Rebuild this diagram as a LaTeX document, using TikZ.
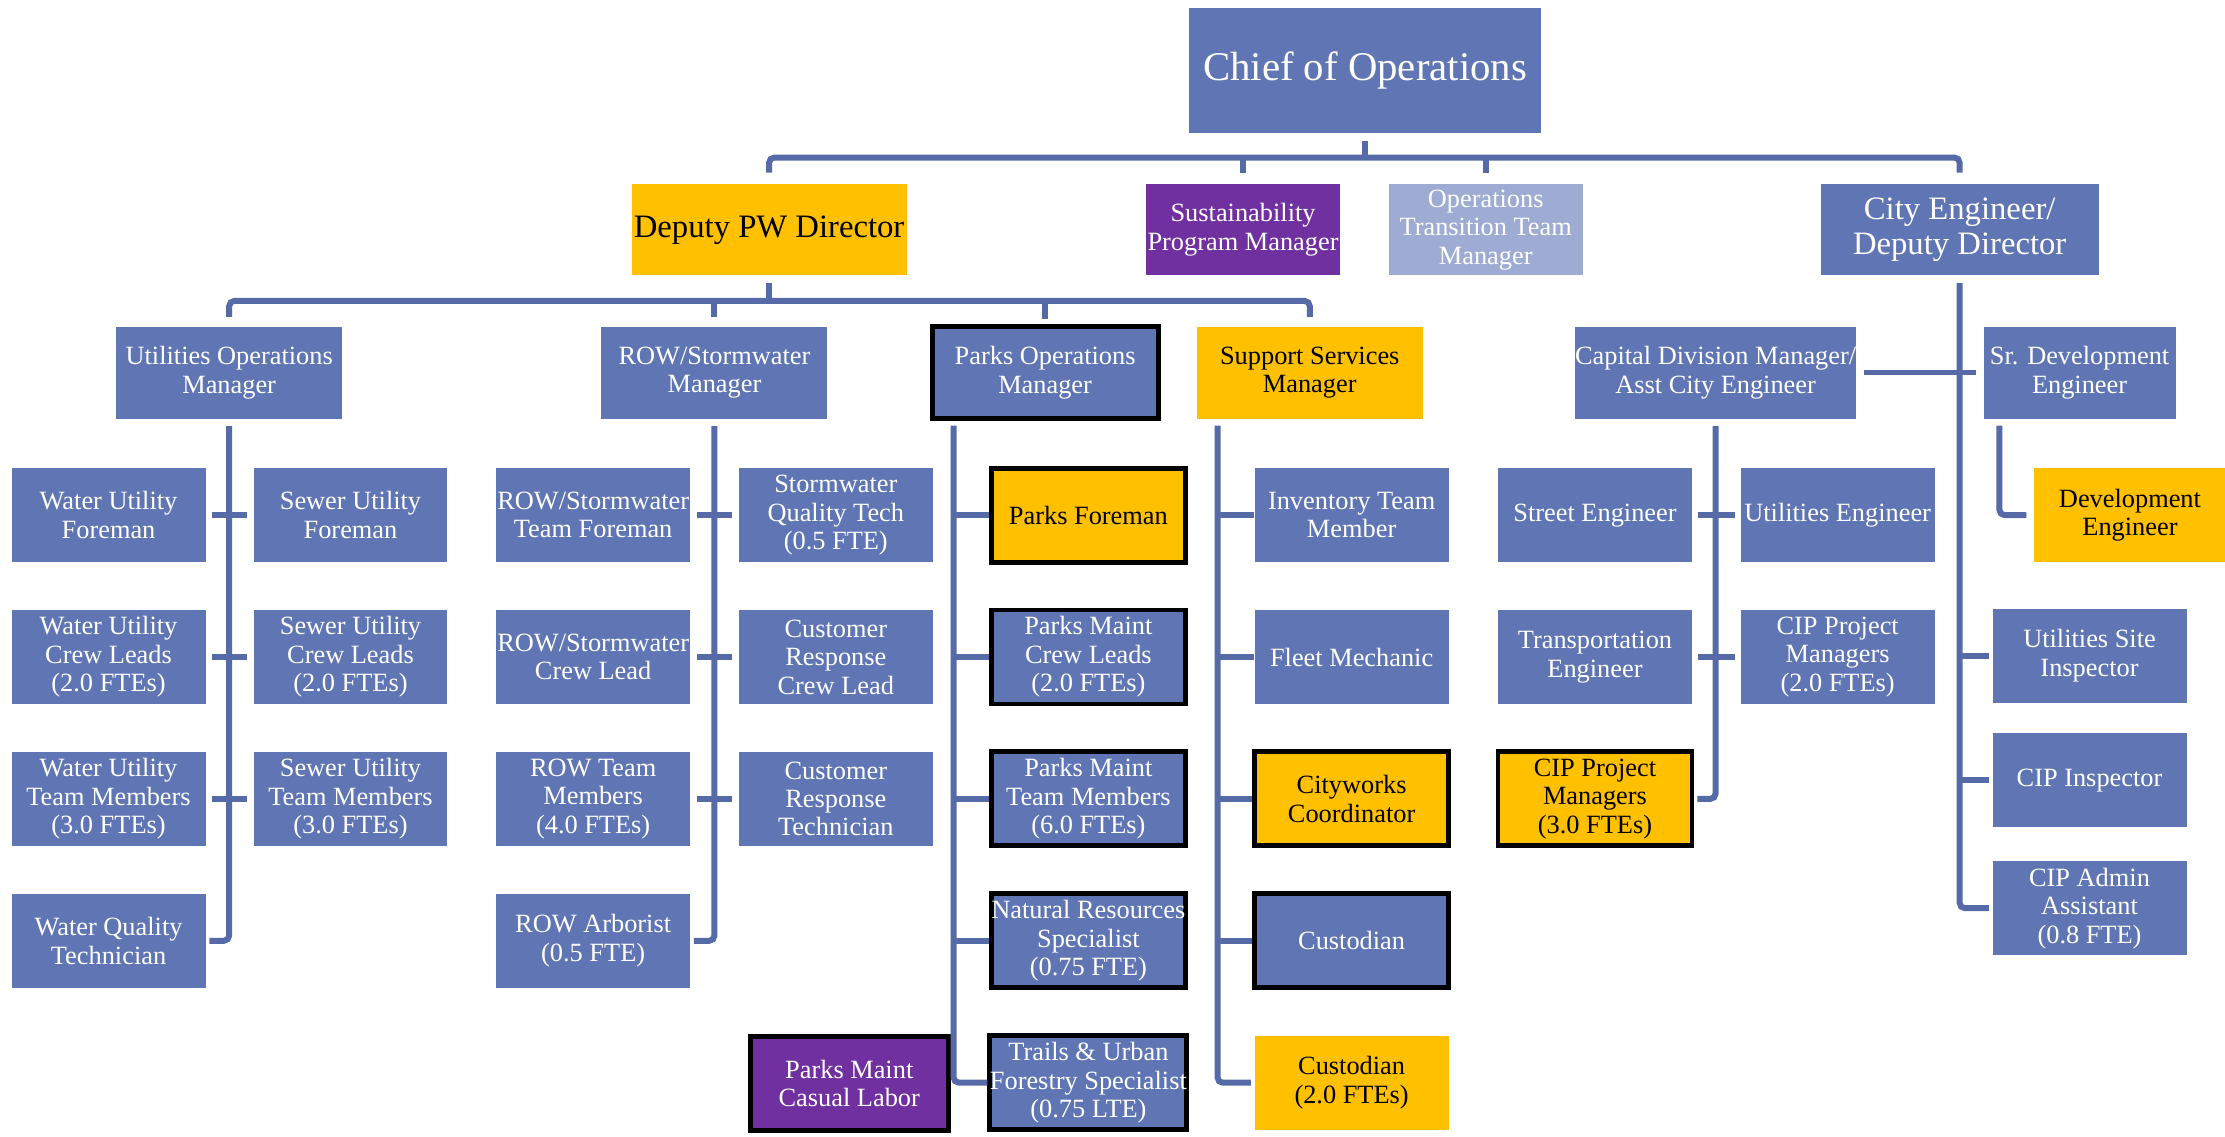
\documentclass[tikz,border=0pt]{standalone}
\usepackage{fontspec}
\setmainfont{Liberation Serif}
\usepackage{tikz}
\usetikzlibrary{positioning}

\definecolor{opsblue}{RGB}{96,118,180}
\definecolor{linkblue}{RGB}{86,106,168}
\definecolor{opsgold}{RGB}{255,192,0}
\definecolor{opsplum}{RGB}{112,48,160}
\definecolor{opspale}{RGB}{158,172,212}

\begin{document}
\begin{tikzpicture}[x=0.01419cm, y=-0.01419cm, node distance=1.419cm,
    box/.style={rectangle, fill=opsblue, text=white, inner sep=0pt, align=center,
      minimum width=1.94cm, minimum height=0.94cm, font=\fontsize{7.5}{8.1}\selectfont},
    head/.style={box, minimum width=2.26cm, minimum height=0.92cm},
    topbox/.style={box, minimum height=0.91cm, font=\fontsize{9.3}{10}\selectfont},
    gold/.style={fill=opsgold, text=black},
    plum/.style={fill=opsplum, text=white},
    keyrole/.style={draw=black, line width=1.4pt},
    link/.style={draw=linkblue, line width=1.7pt, rounded corners=1.5pt}]
        \useasboundingbox (0,0) rectangle (1568,801);

        % Top levels
        \node[box, minimum width=3.52cm, minimum height=1.25cm, font=\fontsize{11.6}{13}\selectfont] (chief) at (962,50) {Chief of Operations};
        \node[topbox, gold, minimum width=2.75cm] (deputy) at (542,162) {Deputy PW Director};
        \node[box, plum, minimum height=0.91cm] (sust) at (876,162) {Sustainability\\Program Manager};
        \node[box, fill=opspale, minimum height=0.91cm] (trans) at (1047,162) {Operations\\Transition Team\\Manager};
        \node[topbox, minimum width=2.78cm] (cityeng) at (1381,162) {City Engineer/\\Deputy Director};

        % Managers
        \node[head] (util) at (161.5,262.5) {Utilities Operations\\Manager};
        \node[head] (rowmgr) at (503.5,262.5) {ROW/Stormwater\\Manager};
        \node[head, keyrole] (parks) at (736.5,262.5) {Parks Operations\\Manager};
        \node[head, gold] (support) at (923,262.5) {Support Services\\Manager};
        \node[head, minimum width=2.81cm] (capital) at (1209,262.5) {Capital Division Manager/\\Asst City Engineer};
        \node[head, minimum width=1.92cm] (srdev) at (1465.5,262.5) {Sr. Development\\Engineer};

        % Utilities
        \node[box] (wuf) at (76.5,363) {Water Utility\\Foreman};
        \node[box, below of=wuf] (wucl) {Water Utility\\Crew Leads\\(2.0 FTEs)};
        \node[box, below of=wucl] (wutm) {Water Utility\\Team Members\\(3.0 FTEs)};
        \node[box, below of=wutm] (wqt) {Water Quality\\Technician};
        \node[box] (suf) at (247,363) {Sewer Utility\\Foreman};
        \node[box, below of=suf] (sucl) {Sewer Utility\\Crew Leads\\(2.0 FTEs)};
        \node[box, below of=sucl] (sutm) {Sewer Utility\\Team Members\\(3.0 FTEs)};

        % ROW / Stormwater
        \node[box] (rtf) at (418,363) {ROW/Stormwater\\Team Foreman};
        \node[box, below of=rtf] (rcl) {ROW/Stormwater\\Crew Lead};
        \node[box, below of=rcl] (rtm) {ROW Team\\Members\\(4.0 FTEs)};
        \node[box, below of=rtm] (arb) {ROW Arborist\\(0.5 FTE)};
        \node[box] (sqt) at (589,363) {Stormwater\\Quality Tech\\(0.5 FTE)};
        \node[box, below of=sqt] (crcl) {Customer\\Response\\Crew Lead};
        \node[box, below of=crcl] (crt) {Customer\\Response\\Technician};

        % Parks
        \node[box, gold, keyrole] (pf) at (767,363) {Parks Foreman};
        \node[box, keyrole, below of=pf] (pmcl) {Parks Maint\\Crew Leads\\(2.0 FTEs)};
        \node[box, keyrole, below of=pmcl] (pmtm) {Parks Maint\\Team Members\\(6.0 FTEs)};
        \node[box, keyrole, below of=pmtm] (nrs) {Natural Resources\\Specialist\\(0.75 FTE)};
        \node[box, keyrole, below of=nrs] (tufs) {Trails \& Urban\\Forestry Specialist\\(0.75 LTE)};
        \node[box, plum, keyrole, minimum width=1.98cm] (casual) at (598.5,763.5) {Parks Maint\\Casual Labor};

        % Support services
        \node[box] (inv) at (952.5,363) {Inventory Team\\Member};
        \node[box, below of=inv] (fleet) {Fleet Mechanic};
        \node[box, gold, keyrole, below of=fleet] (cw) {Cityworks\\Coordinator};
        \node[box, keyrole, below of=cw] (cust) {Custodian};
        \node[box, gold, below of=cust] (cust2) {Custodian\\(2.0 FTEs)};

        % Capital division
        \node[box] (streng) at (1124,363) {Street Engineer};
        \node[box, below of=streng] (transeng) {Transportation\\Engineer};
        \node[box, gold, keyrole, below of=transeng] (cip3) {CIP Project\\Managers\\(3.0 FTEs)};
        \node[box] (utileng) at (1295,363) {Utilities Engineer};
        \node[box, below of=utileng] (cip2) {CIP Project\\Managers\\(2.0 FTEs)};

        % City engineer
        \node[box, gold, minimum width=1.92cm] (deveng) at (1501,363) {Development\\Engineer};
        \node[box] (usi) at (1472.5,462) {Utilities Site\\Inspector};
        \node[box] (cipi) at (1472.5,550) {CIP Inspector};
        \node[box] (cipadmin) at (1472.5,640) {CIP Admin\\Assistant\\(0.8 FTE)};

        % Line anchors
        \coordinate (bus0) at (0,111);
        \coordinate (bus1) at (0,212);
        \coordinate (parksline) at (672,300);
        \coordinate (suppline) at (858,300);
        \coordinate (devline) at (1409,300);

        % Connectors
        \draw[link, shorten <=0.07cm] (chief.south) -- (chief.south |- bus0);
        \draw[link, shorten <=0.11cm, shorten >=0.11cm] (deputy.north) |- (cityeng.north |- bus0) -- (cityeng.north);
        \draw[link, shorten >=0.11cm] (sust.north |- bus0) -- (sust.north);
        \draw[link, shorten >=0.11cm] (trans.north |- bus0) -- (trans.north);

        \draw[link, shorten <=0.07cm] (deputy.south) -- (deputy.south |- bus1);
        \draw[link, shorten <=0.09cm, shorten >=0.09cm] (util.north) |- (support.north |- bus1) -- (support.north);
        \draw[link, shorten >=0.09cm] (rowmgr.north |- bus1) -- (rowmgr.north);
        \draw[link, shorten >=0.05cm] (parks.north |- bus1) -- (parks.north);

        \draw[link, shorten <=0.07cm, shorten >=0.03cm] (util.south) |- (wqt.east);
        \draw[link, shorten <=0.06cm, shorten >=0.06cm] (wuf) -- (suf);
        \draw[link, shorten <=0.06cm, shorten >=0.06cm] (wucl) -- (sucl);
        \draw[link, shorten <=0.06cm, shorten >=0.06cm] (wutm) -- (sutm);

        \draw[link, shorten <=0.07cm, shorten >=0.03cm] (rowmgr.south) |- (arb.east);
        \draw[link, shorten <=0.06cm, shorten >=0.06cm] (rtf) -- (sqt);
        \draw[link, shorten <=0.06cm, shorten >=0.06cm] (rcl) -- (crcl);
        \draw[link, shorten <=0.06cm, shorten >=0.06cm] (rtm) -- (crt);

        \draw[link] (parksline) |- (tufs.west);
        \draw[link] (parksline |- pf.west) -- (pf.west);
        \draw[link] (parksline |- pmcl.west) -- (pmcl.west);
        \draw[link] (parksline |- pmtm.west) -- (pmtm.west);
        \draw[link] (parksline |- nrs.west) -- (nrs.west);

        \draw[link, shorten >=0.03cm] (suppline) |- (cust2.west);
        \draw[link] (suppline |- inv.west) -- (inv.west);
        \draw[link] (suppline |- fleet.west) -- (fleet.west);
        \draw[link] (suppline |- cw.west) -- (cw.west);
        \draw[link] (suppline |- cust.west) -- (cust.west);

        \draw[link, shorten <=0.07cm, shorten >=0.03cm] (cityeng.south) |- (cipadmin.west);
        \draw[link, shorten >=0.03cm] (cityeng.south |- usi.west) -- (usi.west);
        \draw[link, shorten >=0.03cm] (cityeng.south |- cipi.west) -- (cipi.west);
        \draw[link, shorten <=0.07cm, shorten >=0.07cm] (capital) -- (srdev);
        \draw[link, shorten >=0.07cm] (devline) |- (deveng.west);

        \draw[link, shorten <=0.07cm, shorten >=0.03cm] (capital.south) |- (cip3.east);
        \draw[link, shorten <=0.05cm, shorten >=0.05cm] (streng) -- (utileng);
        \draw[link, shorten <=0.05cm, shorten >=0.05cm] (transeng) -- (cip2);
    \end{tikzpicture}
\end{document}
